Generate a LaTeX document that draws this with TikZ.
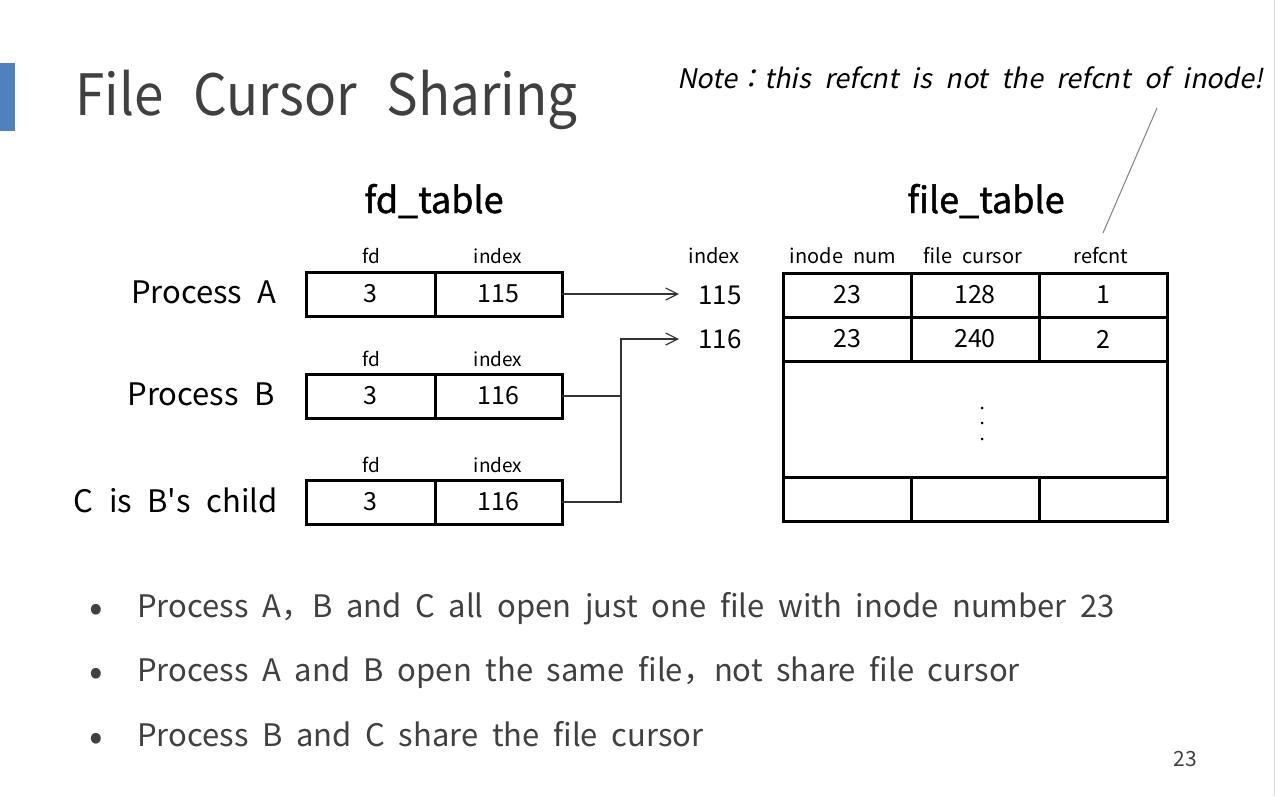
\documentclass[tikz,border=0pt]{standalone}
\usepackage{fontspec}
\setmainfont{Noto Sans CJK KR}
\newfontfamily\notefont[FakeSlant=0.2]{Noto Sans CJK KR}
\newfontfamily\headfont[FakeBold=1.2]{Noto Sans CJK KR}
\newfontfamily\titlefont[FakeStretch=0.93]{Noto Sans CJK KR}
\usetikzlibrary{arrows.meta}
\definecolor{titlegray}{HTML}{404040}
\definecolor{barblue}{HTML}{4F81BD}
\definecolor{linegray}{HTML}{333333}
\newcommand{\fs}[1]{\fontsize{#1}{#1}\selectfont\spaceskip=0.5em plus 0.1em\relax}
\newcommand{\fsw}[2]{\fontsize{#1}{#1}\selectfont\spaceskip=#2\relax}
\begin{document}
\begin{tikzpicture}[x=1pt,y=-1pt,
  cell/.style={draw=black, line width=3pt, minimum height=44pt, inner sep=0pt, outer sep=0pt, font=\fs{25}},
  hdr/.style={anchor=base, font=\fs{19}, inner sep=0pt},
  plabel/.style={anchor=base east, font=\fs{31}, inner sep=0pt},
  bullettext/.style={anchor=base west, font=\fsw{31}{0.44em}, text=titlegray, inner sep=0pt},
  conn/.style={draw=linegray, line width=1.2pt},
  tip/.style={-{Straight Barb[length=12pt,width=12pt,line width=1.2pt]}}
]
\useasboundingbox (0,0) rectangle (1275,796);
\fill[white] (0,0) rectangle (1275,796);
\draw[black!15, line width=1pt] (1274,0) -- (1274,796);
% blue bar
\fill[barblue] (0,63) rectangle (15,131);
% title
\node[anchor=base west, inner sep=0pt, font=\titlefont\fsw{57}{30pt}, text=titlegray] (title) at (75,115) {File Cursor Sharing};
% note
\node[anchor=base west, inner sep=0pt, font=\notefont\fs{27}] (note) at (677,88) {Note：this refcnt is not the refcnt of inode!};
% table titles
\node[anchor=base, inner sep=0pt, font=\headfont\fs{36}] (fdt) at (434,213) {fd\_table};
\node[anchor=base, inner sep=0pt, font=\headfont\fs{36}] (ftt) at (986,213) {file\_table};

% fd tables
\node[cell, minimum width=129pt] (fa) at (370.5,294) {3};
\node[cell, minimum width=127pt] (ia) at (498.5,294) {115};
\node[cell, minimum width=129pt] (fb) at (370.5,396) {3};
\node[cell, minimum width=127pt] (ib) at (498.5,396) {116};
\node[cell, minimum width=129pt] (fc) at (370.5,502) {3};
\node[cell, minimum width=127pt] (ic) at (498.5,502) {116};
\node[hdr] (hfa) at (371,263) {fd};
\node[hdr] (hia) at (498,263) {index};
\node[hdr] (hfb) at (371,366) {fd};
\node[hdr] (hib) at (498,366) {index};
\node[hdr] (hfc) at (371,472) {fd};
\node[hdr] (hic) at (498,472) {index};
\node[plabel] (pa) at (277,303) {Process A};
\node[plabel] (pb) at (275,405) {Process B};
\node[plabel] (pc) at (278,512) {C is B\textquotesingle s child};

% index column
\node[hdr, font=\fs{20}] (hidx) at (714,263) {index};
\node[anchor=base, inner sep=0pt, font=\fs{26}] (n115) at (720,304) {115};
\node[anchor=base, inner sep=0pt, font=\fs{26}] (n116) at (720,348) {116};

% file table
\node[hdr, font=\fs{20}] (hin) at (843,263) {inode num};
\node[hdr, font=\fs{20}] (hfcur) at (973,263) {file cursor};
\node[hdr, font=\fs{20}] (hrc) at (1101,263) {refcnt};
\node[cell, minimum width=128pt] (t11) at (847,295) {23};
\node[cell, minimum width=128pt] (t12) at (975,295) {128};
\node[cell, minimum width=128pt] (t13) at (1103,295) {1};
\node[cell, minimum width=128pt] (t21) at (847,339) {23};
\node[cell, minimum width=128pt] (t22) at (975,339) {240};
\node[cell, minimum width=128pt] (t23) at (1103,339) {2};
\node[cell, minimum width=384pt, minimum height=116pt] (tbig) at (975,419) {};
\node[cell, minimum width=128pt] (t41) at (847,499) {};
\node[cell, minimum width=128pt] (t42) at (975,499) {};
\node[cell, minimum width=128pt] (t43) at (1103,499) {};
\fill (982,408) circle (1.5pt) (982,423) circle (1.5pt) (982,439) circle (1.5pt);

% connectors
\coordinate (tipA) at (679,294);
\coordinate (tipB) at (679,339);
\coordinate (j) at (621,396);
\coordinate (jtop) at (621,339);
\draw[conn, tip] (ia.east) -- (tipA);
\draw[conn] (ib.east) -- (j);
\draw[conn] (ic.east) -| (j);
\draw[conn, tip] (j) -- (jtop) -- (tipB);
% note pointer
\coordinate (nstart) at (1157,108);
\coordinate (nend) at (1103,233);
\draw[gray, line width=1pt] (nstart) -- (nend);

% bullets
\foreach \yy/\nm in {617/b1, 681/b2, 746/b3} {
  \node[anchor=base, inner sep=0pt, font=\fs{40}, text=titlegray] (\nm) at (96,\yy+4) {•};
}
\node[bullettext] (l1) at (137,617) {Process A，B and C all open just one file with inode number 23};
\node[bullettext] (l2) at (137,681) {Process A and B open the same file，not share file cursor};
\node[bullettext] (l3) at (137,746) {Process B and C share the file cursor};
% page number
\node[anchor=base, inner sep=0pt, font=\fs{21}, text=titlegray] (pg) at (1185,766) {23};
\end{tikzpicture}
\end{document}
